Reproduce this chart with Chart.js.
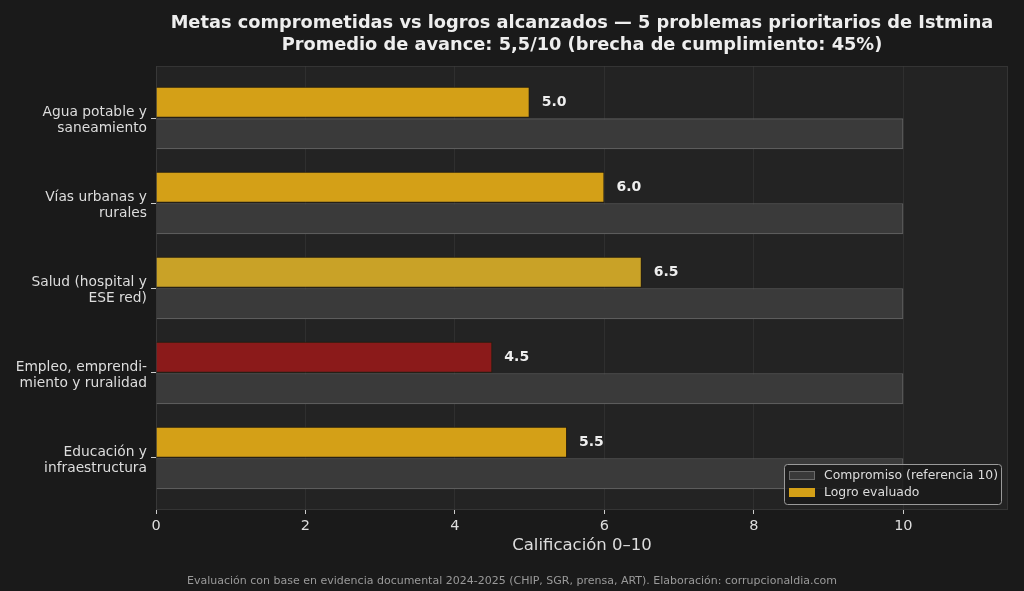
<!DOCTYPE html>
<html>
<head>
<meta charset="utf-8">
<script src="https://cdn.jsdelivr.net/npm/chart.js@4.4.1/dist/chart.umd.min.js"></script>
<style>
  html, body { margin: 0; padding: 0; background: #1a1a1a; }
  #wrap { width: 1024px; height: 591px; position: relative; }
</style>
</head>
<body>
<div id="wrap"><canvas id="metasChart"></canvas></div>
<script>
// Datos
const categorias = [
  ['Agua potable y', 'saneamiento'],
  ['Vías urbanas y', 'rurales'],
  ['Salud (hospital y', 'ESE red)'],
  ['Empleo, emprendi-', 'miento y ruralidad'],
  ['Educación y', 'infraestructura']
];
const compromiso = [10, 10, 10, 10, 10];
const logro = [5.0, 6.0, 6.5, 4.5, 5.5];
const coloresLogro = ['#d4a017', '#d4a017', '#c9a227', '#8b1a1a', '#d4a017'];
const ticksX = [0, 2, 4, 6, 8, 10];

const titulo = [
  'Metas comprometidas vs logros alcanzados — 5 problemas prioritarios de Istmina',
  'Promedio de avance: 5,5/10 (brecha de cumplimiento: 45%)'
];
const pie = 'Evaluación con base en evidencia documental 2024-2025 (CHIP, SGR, prensa, ART). Elaboración: corrupcionaldia.com';

const FONT = "'DejaVu Sans', sans-serif";

// fondo del área de trazado, título, pie, etiquetas y leyenda
const decoracion = {
  id: 'decoracion',
  beforeDraw(chart) {
    const { ctx, chartArea: a } = chart;
    ctx.save();
    ctx.fillStyle = '#232323';
    ctx.fillRect(a.left, a.top, a.right - a.left, a.bottom - a.top);
    ctx.strokeStyle = '#343434';
    ctx.lineWidth = 1;
    ctx.strokeRect(a.left + 0.5, a.top + 0.5, a.right - a.left - 1, a.bottom - a.top - 1);
    ctx.restore();
  },
  afterDatasetsDraw(chart) {
    const { ctx } = chart;
    const meta = chart.getDatasetMeta(0);
    ctx.save();
    ctx.font = 'bold 14px ' + FONT;
    ctx.fillStyle = '#eeeeee';
    ctx.textBaseline = 'middle';
    meta.data.forEach((bar, i) => {
      ctx.fillText(logro[i].toFixed(1), bar.x + 12, bar.y);
    });
    ctx.restore();
  },
  afterDraw(chart) {
    const { ctx, chartArea: a } = chart;
    ctx.save();
    // título
    ctx.font = 'bold 17.8px ' + FONT;
    ctx.fillStyle = '#eeeeee';
    ctx.textAlign = 'center';
    ctx.textBaseline = 'middle';
    const cx = (a.left + a.right) / 2;
    ctx.fillText(titulo[0], cx, 23);
    ctx.fillText(titulo[1], cx, 45);
    // pie
    ctx.font = '11px ' + FONT;
    ctx.fillStyle = '#9a9a9a';
    ctx.fillText(pie, 512, 581);

    // leyenda
    const lx = 784, ly = 464, lw = 217, lh = 40;
    ctx.fillStyle = 'rgba(26,26,26,0.85)';
    ctx.strokeStyle = '#9a9a9a';
    ctx.lineWidth = 1;
    ctx.beginPath();
    ctx.roundRect(lx + 0.5, ly + 0.5, lw, lh, 3);
    ctx.fill();
    ctx.stroke();
    const items = [
      { texto: chart.data.datasets[1].label, fill: '#3a3a3a', borde: '#6a6a6a' },
      { texto: chart.data.datasets[0].label, fill: '#d4a017', borde: '#d4a017' }
    ];
    ctx.font = '12.4px ' + FONT;
    ctx.textAlign = 'left';
    items.forEach((it, i) => {
      const y = ly + 11 + i * 17;
      ctx.fillStyle = it.fill;
      ctx.fillRect(lx + 5, y - 4, 26, 9);
      ctx.strokeStyle = it.borde;
      ctx.strokeRect(lx + 5.5, y - 3.5, 25, 8);
      ctx.fillStyle = '#dddddd';
      ctx.fillText(it.texto, lx + 40, y + 1);
    });
    ctx.restore();
  }
};

const metasCtx = document.getElementById('metasChart').getContext('2d');
const metasChart = new Chart(metasCtx, {
  type: 'bar',
  data: {
    datasets: [
      {
        label: 'Logro evaluado',
        data: logro.map((v, i) => ({ x: v, y: i })),
        backgroundColor: coloresLogro,
        borderColor: 'rgba(40, 30, 10, 0.9)',
        borderWidth: 1
      },
      {
        label: 'Compromiso (referencia 10)',
        data: compromiso.map((v, i) => ({ x: v, y: i })),
        backgroundColor: '#3a3a3a',
        borderColor: '#5c5c5c',
        borderWidth: 1.3
      }
    ]
  },
  options: {
    indexAxis: 'y',
    responsive: true,
    maintainAspectRatio: false,
    animation: false,
    categoryPercentage: 0.745,
    barPercentage: 0.98,
    layout: {
      padding: { top: 66, right: 16, bottom: 35, left: 0 }
    },
    plugins: {
      legend: { display: false },
      tooltip: { enabled: false }
    },
    scales: {
      x: {
        type: 'linear',
        min: 0,
        max: 11.4,
        z: 1,
        border: { display: false },
        grid: {
          color: 'rgba(62, 62, 62, 0.45)',
          lineWidth: 1,
          tickColor: '#cccccc',
          tickLength: 4
        },
        afterBuildTicks: function(axis) {
          axis.ticks = ticksX.map(v => ({ value: v }));
        },
        ticks: {
          color: '#dddddd',
          font: { family: FONT, size: 14.5 },
          padding: 4
        },
        title: {
          display: true,
          text: 'Calificación 0–10',
          color: '#dddddd',
          font: { family: FONT, size: 16.5 },
          padding: { top: 0, bottom: 0 }
        },
        afterFit: function(axis) {
          axis.height = 46;
        }
      },
      y: {
        type: 'linear',
        min: -0.612,
        max: 4.612,
        reverse: true,
        offset: false,
        border: { display: false },
        grid: {
          offset: false,
          drawOnChartArea: false,
          tickColor: '#cccccc',
          tickLength: 5
        },
        ticks: {
          stepSize: 1,
          includeBounds: false,
          autoSkip: false,
          color: '#dddddd',
          font: { family: FONT, size: 13.8, lineHeight: 1.15 },
          padding: 4,
          labelOffset: 2,
          callback: function(value) {
            return Number.isInteger(value) && categorias[value] ? categorias[value] : '';
          }
        },
        afterFit: function(axis) {
          axis.width = 156;
        }
      }
    }
  },
  plugins: [decoracion]
});
</script>
</body>
</html>
